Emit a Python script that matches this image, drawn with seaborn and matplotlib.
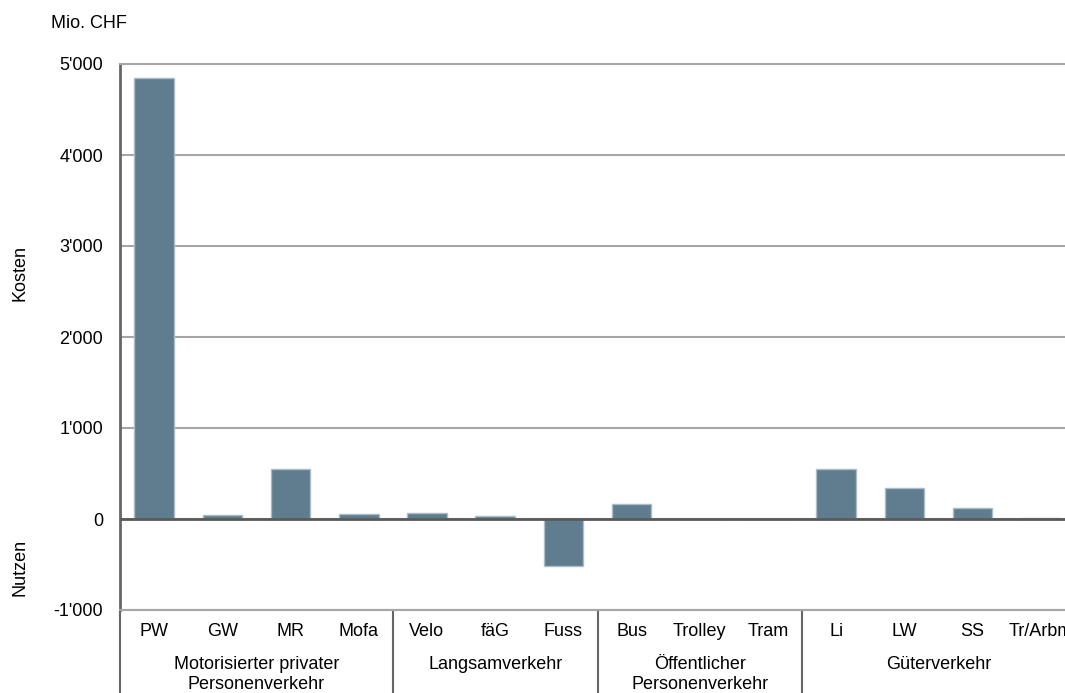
import numpy as np
import pandas as pd
import matplotlib
matplotlib.use("Agg")
import matplotlib.pyplot as plt
import matplotlib.transforms as mtransforms
from matplotlib.ticker import FuncFormatter
import seaborn as sns

# Daten (Mio. CHF)
categories = ["PW", "GW", "MR", "Mofa", "Velo", "fäG", "Fuss",
              "Bus", "Trolley", "Tram", "Li", "LW", "SS", "Tr/Arbm"]
values = [4846, 45, 554, 52, 63, 35, -515,
          160, 0, 0, 554, 343, 118, 11]
groups = ["Motorisierter privater\nPersonenverkehr", "Langsamverkehr",
          "Öffentlicher\nPersonenverkehr", "Güterverkehr"]
group_sizes = [4, 3, 3, 4]

df = pd.DataFrame({"Kategorie": categories, "Wert": values})

sns.set_style("white")
plt.rcParams["font.family"] = ["Liberation Sans", "DejaVu Sans"]
plt.rcParams["font.size"] = 13
plt.rcParams["text.color"] = "black"

fig = plt.figure(figsize=(10.65, 6.93), dpi=100)
W, H = 1065, 693
ax = fig.add_axes([120 / W, 83 / H, 955 / W, 546 / H])

sns.barplot(data=df, x="Kategorie", y="Wert", color="#5f7d8e", saturation=1,
            width=0.58, edgecolor="#a9bcc8", linewidth=1, ax=ax, zorder=2)

ax.set_xlim(-0.5, len(categories) - 0.5)
ax.set_ylim(-1000, 5000)
ax.set_yticks(np.arange(-1000, 5001, 1000))
ax.yaxis.set_major_formatter(FuncFormatter(lambda v, p: f"{int(v):,}".replace(",", "'")))
ax.yaxis.grid(True, color="#a6a6a6", lw=1.5)
ax.set_axisbelow(True)
ax.axhline(0, color="#5a5a5a", lw=2, zorder=3)

ax.tick_params(axis="y", length=0, pad=12, labelsize=13, colors="black")
ax.tick_params(axis="x", length=0, pad=9, labelsize=13, colors="black")
ax.set_xlabel("")
ax.set_ylabel("")

ax.spines["right"].set_visible(False)
for s in ["top", "bottom"]:
    ax.spines[s].set_color("#a6a6a6")
    ax.spines[s].set_linewidth(1.5)
ax.spines["left"].set_color("#666666")
ax.spines["left"].set_linewidth(2)

# Gruppenbeschriftung und Trennlinien unter der Achse
trans = mtransforms.blended_transform_factory(ax.transData, ax.transAxes)
start = 0
ybot = -83 / 546
for g, n in zip(groups, group_sizes):
    center = start + (n - 1) / 2
    ax.text(center, -46 / 546, g, transform=trans, ha="center", va="top",
            fontsize=13, linespacing=1.2, color="black")
    ax.plot([start - 0.5, start - 0.5], [0, ybot], transform=trans,
            color="#666666", lw=1.5, clip_on=False)
    start += n

fig.text(51 / W, 1 - 23 / H, "Mio. CHF", ha="left", va="center", fontsize=13)
fig.text(20 / W, 1 - 273 / H, "Kosten", rotation=90, ha="center", va="center", fontsize=13)
fig.text(20 / W, 1 - 567 / H, "Nutzen", rotation=90, ha="center", va="center", fontsize=13)

fig.savefig("out.png", dpi=100)
